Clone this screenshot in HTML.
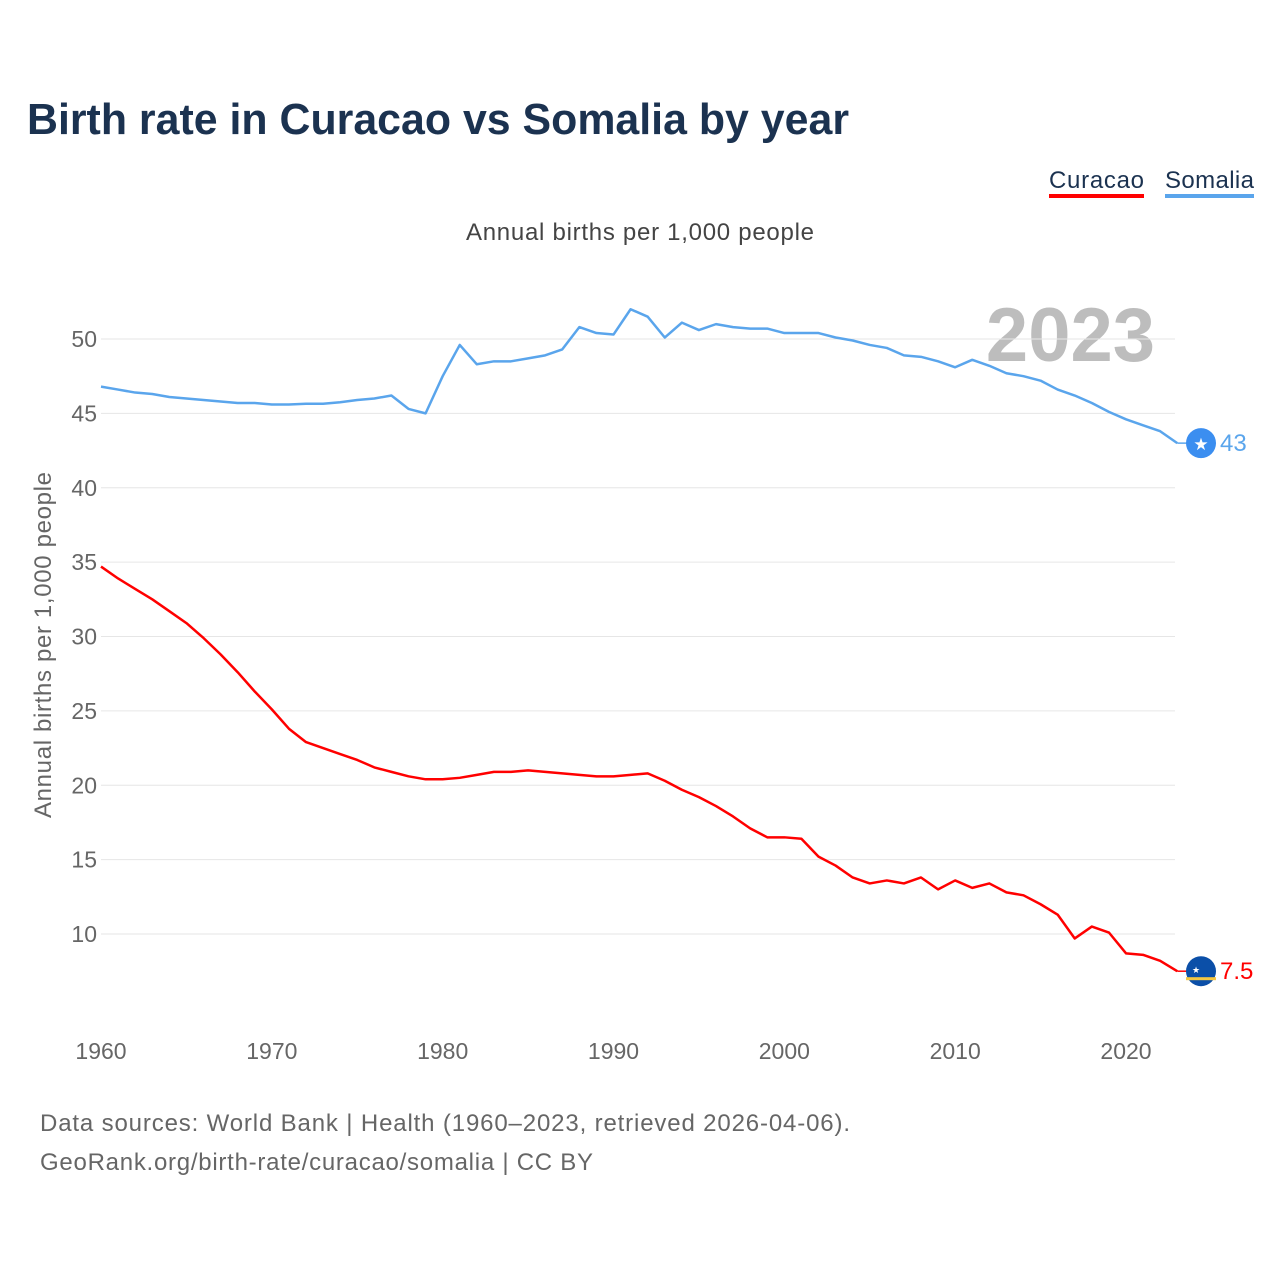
<!DOCTYPE html>
<html><head><meta charset="utf-8"><style>
body{margin:0;background:#fff;font-family:"Liberation Sans",sans-serif}
#wrap{position:relative;width:1280px;height:1280px;overflow:hidden}
</style></head><body>
<div id="wrap">
<svg id="svg" width="1280" height="1280">
<text x="27" y="134" font-size="44" font-weight="bold" fill="#1b3250" textLength="822" lengthAdjust="spacingAndGlyphs">Birth rate in Curacao vs Somalia by year</text>
<g><text x="1049" y="188" font-size="24" fill="#1b3250" textLength="95">Curacao</text><rect x="1049" y="194" width="95" height="4" fill="#ff0000"/></g>
<g><text x="1165" y="188" font-size="24" fill="#1b3250" textLength="89">Somalia</text><rect x="1165" y="194" width="89" height="4" fill="#5aa5ec"/></g>
<text x="466" y="240" font-size="24" fill="#444" textLength="348">Annual births per 1,000 people</text>
<text x="1155" y="361" font-size="76" font-weight="bold" fill="#bdbdbd" text-anchor="end">2023</text>
<text transform="translate(51,645) rotate(-90)" font-size="24" fill="#666" text-anchor="middle" textLength="346">Annual births per 1,000 people</text>
<g id="grid"></g><g id="series"></g>
<text x="40" y="1131" font-size="24" fill="#666" textLength="810">Data sources: World Bank | Health (1960–2023, retrieved 2026-04-06).</text>
<text x="40" y="1170" font-size="24" fill="#666" textLength="553">GeoRank.org/birth-rate/curacao/somalia | CC BY</text>
</svg>
</div>
<script>
const years=[];for(let y=1960;y<=2023;y++)years.push(y);
const somalia=[46.8,46.6,46.4,46.3,46.1,46.0,45.9,45.8,45.7,45.7,45.6,45.6,45.65,45.65,45.75,45.9,46.0,46.2,45.3,45.0,47.5,49.6,48.3,48.5,48.5,48.7,48.9,49.3,50.8,50.4,50.3,52.0,51.5,50.1,51.1,50.6,51.0,50.8,50.7,50.7,50.4,50.4,50.4,50.1,49.9,49.6,49.4,48.9,48.8,48.5,48.1,48.6,48.2,47.7,47.5,47.2,46.6,46.2,45.7,45.1,44.6,44.2,43.8,43.0];
const curacao=[34.7,33.9,33.2,32.5,31.7,30.9,29.9,28.8,27.6,26.3,25.1,23.8,22.9,22.5,22.1,21.7,21.2,20.9,20.6,20.4,20.4,20.5,20.7,20.9,20.9,21.0,20.9,20.8,20.7,20.6,20.6,20.7,20.8,20.3,19.7,19.2,18.6,17.9,17.1,16.5,16.5,16.4,15.2,14.6,13.8,13.4,13.6,13.4,13.8,13.0,13.6,13.1,13.4,12.8,12.6,12.0,11.3,9.7,10.5,10.1,8.7,8.6,8.2,7.5];
const yTicks=[10,15,20,25,30,35,40,45,50];
const xTicks=[1960,1970,1980,1990,2000,2010,2020];
const NS="http://www.w3.org/2000/svg";
const X=y=>101+(y-1960)*(1025/60);
const Y=v=>339+(50-v)*(595/40);
function mk(tag,attrs,parent){const e=document.createElementNS(NS,tag);for(const k in attrs)e.setAttribute(k,attrs[k]);parent.appendChild(e);return e;}
const grid=document.getElementById('grid'),ser=document.getElementById('series');
yTicks.forEach(v=>{
 const l=mk('line',{x1:101,x2:1175,y1:Y(v),y2:Y(v),stroke:'#e6e6e6','stroke-width':1},grid);
 
 
 const t=mk('text',{x:97,y:Y(v)+8,'font-size':23,fill:'#666','text-anchor':'end'},grid);t.textContent=v;
 
 
});
xTicks.forEach(v=>{
 const t=mk('text',{x:X(v),y:1059,'font-size':23,fill:'#666','text-anchor':'middle'},grid);t.textContent=v;
 
 
});
function line(data,color,name){
 const p=mk('polyline',{points:data.map((v,i)=>X(years[i])+','+Y(v)).join(' '),fill:'none',stroke:color,'stroke-width':2.5,'stroke-linejoin':'round'},ser);
 
 
}
line(somalia,'#5aa5ec','somalia-line');
line(curacao,'#ff0000','curacao-line');
const ls=somalia[somalia.length-1],lc=curacao[curacao.length-1];
mk('line',{x1:X(2023),x2:1188,y1:Y(ls),y2:Y(ls),stroke:'#5aa5ec','stroke-width':1.5},ser);
const sm=mk('circle',{cx:1201,cy:Y(ls),r:15,fill:'#3b8ef0'},ser);


const st=mk('text',{x:1201,y:Y(ls)+7,'font-size':17,fill:'#fff','text-anchor':'middle'},ser);st.textContent='★';
const sl=mk('text',{x:1220,y:Y(ls)+8,'font-size':24,fill:'#5aa5ec'},ser);sl.textContent='43';


mk('line',{x1:X(2023),x2:1188,y1:Y(lc),y2:Y(lc),stroke:'#ff0000','stroke-width':1.5},ser);
const cm=mk('circle',{cx:1201,cy:Y(lc),r:15,fill:'#0b4fa8'},ser);


mk('rect',{x:1186,y:Y(lc)+6,width:30,height:3,fill:'#f5c842'},ser);
const ct=mk('text',{x:1196,y:Y(lc)+2,'font-size':9,fill:'#fff','text-anchor':'middle'},ser);ct.textContent='★';
const cl=mk('text',{x:1220,y:Y(lc)+8,'font-size':24,fill:'#ff0000'},ser);cl.textContent='7.5';


</script>
</body></html>
